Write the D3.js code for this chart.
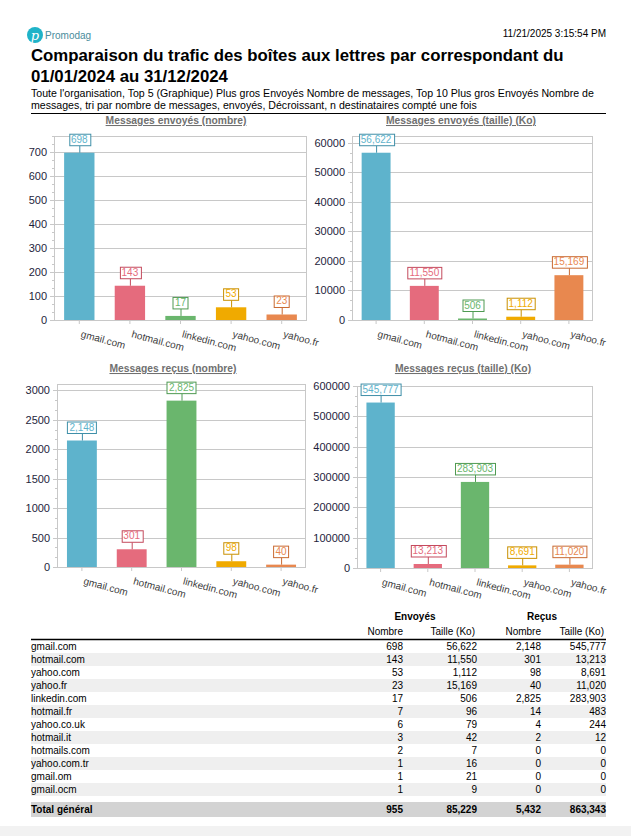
<!DOCTYPE html>
<html><head><meta charset="utf-8">
<script src="https://cdn.jsdelivr.net/npm/d3@7"></script>
<style>
html,body{margin:0;padding:0;background:#fff;}
svg{display:block;font-family:"Liberation Sans",Arial,sans-serif;}
</style></head>
<body>
<svg id="c" width="631" height="836"></svg>
<script>
// ---- data ----
const categories = ["gmail.com","hotmail.com","linkedin.com","yahoo.com","yahoo.fr"];
const sentCount = [698,143,17,53,23];
const sentSize = [56622,11550,506,1112,15169];
const recvCount = [2148,301,2825,98,40];
const recvSize = [545777,13213,283903,8691,11020];
const barColors = ["#5eb3cc","#e56b7d","#6ab66d","#f0aa00","#e8884f"];
const labelBorder = ["#3f8fa8","#c44a5d","#4f9a52","#c99000","#c96a32"];
const chartTitles = ["Messages envoyés (nombre)","Messages envoyés (taille) (Ko)","Messages reçus (nombre)","Messages reçus (taille) (Ko)"];
const yTicks1 = [0,100,200,300,400,500,600,700];
const yTicks2 = [0,10000,20000,30000,40000,50000,60000];
const yTicks3 = [0,500,1000,1500,2000,2500,3000];
const yTicks4 = [0,100000,200000,300000,400000,500000,600000];

const tableDomains = ["gmail.com","hotmail.com","yahoo.com","yahoo.fr","linkedin.com","hotmail.fr","yahoo.co.uk","hotmail.it","hotmails.com","yahoo.com.tr","gmail.om","gmail.ocm"];
const tSentCount = [698,143,53,23,17,7,6,3,2,1,1,1];
const tSentSize = [56622,11550,1112,15169,506,96,79,42,7,16,21,9];
const tRecvCount = [2148,301,98,40,2825,14,4,2,0,0,0,0];
const tRecvSize = [545777,13213,8691,11020,283903,483,244,12,0,0,0,0];
const totals = [955,85229,5432,863343];

const svg = d3.select("#c");
const fmt = d3.format(",");

// ---- header ----
svg.append("circle").attr("cx",35).attr("cy",35).attr("r",8).attr("fill","#1fb3c8");
svg.append("text").attr("x",35).attr("y",39.5).attr("text-anchor","middle").attr("fill","#fff")
  .attr("font-size",13).attr("font-style","italic").attr("font-family","DejaVu Serif, serif").text("p");
svg.append("text").attr("x",45).attr("y",39).attr("font-size",10).attr("fill","#4a8c9c").text("Promodag");
svg.append("text").attr("x",606).attr("y",37).attr("text-anchor","end").attr("font-size",10).attr("fill","#000").text("11/21/2025 3:15:54 PM");
svg.append("text").attr("x",31).attr("y",61).attr("font-size",16.8).attr("font-weight","bold").attr("fill","#000")
  .text("Comparaison du trafic des boîtes aux lettres par correspondant du");
svg.append("text").attr("x",31).attr("y",82).attr("font-size",16.8).attr("font-weight","bold").attr("fill","#000")
  .text("01/01/2024 au 31/12/2024");
svg.append("text").attr("x",31).attr("y",97).attr("font-size",10.6).attr("fill","#000")
  .text("Toute l'organisation, Top 5 (Graphique) Plus gros Envoyés Nombre de messages, Top 10 Plus gros Envoyés Nombre de");
svg.append("text").attr("x",31).attr("y",109).attr("font-size",10.6).attr("fill","#000")
  .text("messages, tri par nombre de messages, envoyés, Décroissant, n destinataires compté une fois");
svg.append("line").attr("x1",31).attr("x2",606).attr("y1",113.5).attr("y2",113.5).attr("stroke","#000").attr("stroke-width",1.2);

// ---- charts ----
function drawChart(cfg){
  const {values,ticks,left,right,top,bottom,title,titleX,titleY} = cfg;
  const g = svg.append("g");
  g.append("text").attr("x",titleX).attr("y",titleY).attr("text-anchor","middle").attr("font-size",10.3)
    .attr("font-weight","bold").attr("fill","#707070").attr("text-decoration","underline").text(title);
  const x = d3.scaleBand().domain(categories).range([left,right]).paddingInner(0.4).paddingOuter(0.2);
  const y = d3.scaleLinear().domain([0, d3.max(values)*1.1]).range([bottom,top]);
  // grid
  g.selectAll(".grid").data(ticks).join("line")
    .attr("x1",left-4).attr("x2",right).attr("y1",d=>Math.round(y(d))+0.5).attr("y2",d=>Math.round(y(d))+0.5)
    .attr("stroke","#c8c8c8");
  // minor ticks
  const step = ticks[1]-ticks[0];
  const minors = [];
  for(let v=0; v<=y.domain()[1]; v+=step/3){ if(Math.abs((v/step)-Math.round(v/step))>1e-6) minors.push(v); }
  g.selectAll(".minor").data(minors).join("line")
    .attr("x1",left-2).attr("x2",left).attr("y1",d=>Math.round(y(d))+0.5).attr("y2",d=>Math.round(y(d))+0.5)
    .attr("stroke","#c8c8c8");
  // frame
  g.append("rect").attr("x",left+0.5).attr("y",top+0.5).attr("width",right-left-1).attr("height",bottom-top)
    .attr("fill","none").attr("stroke","#c8c8c8");
  // y labels
  const ya = d3.axisLeft(y).tickValues(ticks).tickSize(0).tickPadding(7).tickFormat(d3.format("d"));
  const yg = g.append("g").attr("transform",`translate(${left},0)`).call(ya);
  yg.select(".domain").remove();
  yg.selectAll("text").attr("font-size",11).attr("fill","#1e1e3c").attr("font-family","Liberation Sans, Arial, sans-serif");
  // x ticks & labels
  const xa = d3.axisBottom(x).tickSize(4).tickPadding(0);
  const xg = g.append("g").attr("transform",`translate(0,${bottom})`).call(xa);
  xg.select(".domain").remove();
  xg.selectAll("line").attr("stroke","#c8c8c8");
  xg.selectAll("text").attr("font-size",10).attr("fill","#404040").attr("text-anchor","start")
    .attr("font-family","Liberation Sans, Arial, sans-serif")
    .attr("dy",0).attr("y",0)
    .attr("transform","translate(1,17) rotate(15)");
  // bars
  g.selectAll(".bar").data(values).join("rect")
    .attr("x",(d,i)=>x(categories[i])).attr("width",x.bandwidth())
    .attr("y",d=>y(d)).attr("height",d=>bottom-y(d)).attr("fill",(d,i)=>barColors[i]);
  // data labels
  const lab = g.selectAll(".lab").data(values).join("g")
    .attr("transform",(d,i)=>`translate(${x(categories[i])+x.bandwidth()/2},${y(d)})`);
  lab.append("line").attr("x1",0.5).attr("x2",0.5).attr("y1",0).attr("y2",-7).attr("stroke",(d,i)=>labelBorder[i]);
  lab.each(function(d,i){
    const s = d3.select(this);
    const t = s.append("text").attr("x",0).attr("y",-10).attr("text-anchor","middle").attr("font-size",10)
      .attr("fill",barColors[i]).text(fmt(d));
    const w = t.node().getComputedTextLength();
    s.insert("rect","text").attr("x",Math.round(-w/2-2)+0.5).attr("y",-18.5).attr("width",Math.round(w+4)).attr("height",11.5)
      .attr("fill","#fff").attr("stroke",labelBorder[i]);
  });
}
drawChart({values:sentCount,ticks:yTicks1,left:54,right:307,top:136,bottom:320,title:chartTitles[0],titleX:176,titleY:124});
drawChart({values:sentSize,ticks:yTicks2,left:352,right:593,top:136,bottom:320,title:chartTitles[1],titleX:461,titleY:124});
drawChart({values:recvCount,ticks:yTicks3,left:57,right:306,top:384,bottom:567,title:chartTitles[2],titleX:173,titleY:372});
drawChart({values:recvSize,ticks:yTicks4,left:357,right:593,top:386,bottom:568,title:chartTitles[3],titleX:463,titleY:372});

// ---- table ----
const colRight = [403,477,541,606];
const rowTop = 639, rowH = 13;
svg.append("text").attr("x",415).attr("y",620).attr("text-anchor","middle").attr("font-size",10).attr("font-weight","bold").text("Envoyés");
svg.append("text").attr("x",542).attr("y",620).attr("text-anchor","middle").attr("font-size",10).attr("font-weight","bold").text("Reçus");
const subH = ["Nombre","Taille (Ko)","Nombre","Taille (Ko)"];
subH.forEach((h,i)=>svg.append("text").attr("x",colRight[i]-(i%2?2:0)).attr("y",635).attr("text-anchor","end").attr("font-size",10).text(h));
svg.append("line").attr("x1",31).attr("x2",606).attr("y1",639.5).attr("y2",639.5).attr("stroke","#000").attr("stroke-width",1.3);
const cols = [tSentCount,tSentSize,tRecvCount,tRecvSize];
tableDomains.forEach((dname,r)=>{
  const yTop = rowTop + 1 + r*rowH;
  if(r%2===1) svg.append("rect").attr("x",31).attr("y",yTop).attr("width",575).attr("height",rowH).attr("fill","#efefef");
  svg.append("text").attr("x",31).attr("y",yTop+10).attr("font-size",10).text(dname);
  cols.forEach((c,ci)=>svg.append("text").attr("x",colRight[ci]).attr("y",yTop+10).attr("text-anchor","end").attr("font-size",10).text(fmt(c[r])));
});
const totTop = rowTop + 1 + tableDomains.length*rowH + 6;
svg.append("rect").attr("x",31).attr("y",totTop).attr("width",575).attr("height",15).attr("fill","#d3d3d3");
svg.append("text").attr("x",31).attr("y",totTop+11).attr("font-size",10).attr("font-weight","bold").text("Total général");
totals.forEach((v,ci)=>svg.append("text").attr("x",colRight[ci]).attr("y",totTop+11).attr("text-anchor","end").attr("font-size",10).attr("font-weight","bold").text(fmt(v)));
svg.append("rect").attr("x",0).attr("y",826).attr("width",631).attr("height",10).attr("fill","#f2f2f2");
</script>
</body></html>
